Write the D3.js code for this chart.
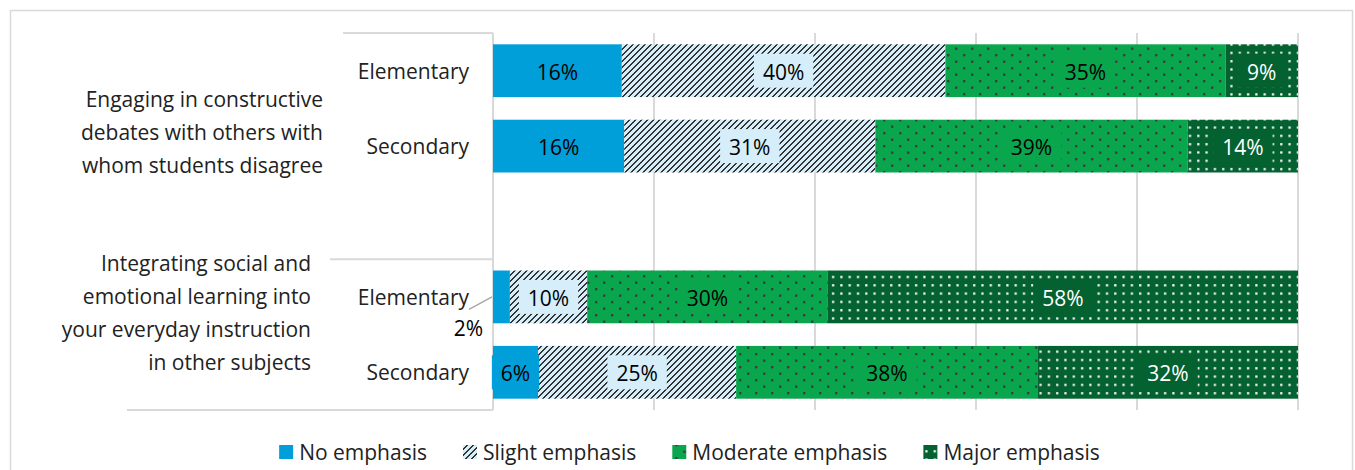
<!DOCTYPE html>
<html>
<head>
<meta charset="utf-8">
<script src="https://cdn.jsdelivr.net/npm/d3@7"></script>
<style>
  html, body { margin: 0; padding: 0; background: #fff; }
  svg { display: block; font-family: "Open Sans", sans-serif; }
</style>
</head>
<body>
<svg id="chart" width="1355" height="470"></svg>
<script>
// ---------------- data ----------------
const series = ["No emphasis", "Slight emphasis", "Moderate emphasis", "Major emphasis"];
const groups = [
  "Engaging in constructive debates with others with whom students disagree",
  "Integrating social and emotional learning into your everyday instruction in other subjects"
];
const groupLines = [
  ["Engaging in constructive", "debates with others with", "whom students disagree"],
  ["Integrating social and", "emotional learning into", "your everyday instruction", "in other subjects"]
];
const levels = ["Elementary", "Secondary"];
const rowKeys = ["g1-Elementary", "g1-Secondary", "gap", "g2-Elementary", "g2-Secondary"];
const noEmphasis       = [16.0, 16.3, 2.1, 5.6];
const slightEmphasis   = [40.2, 31.2, 9.6, 24.6];
const moderateEmphasis = [34.8, 38.8, 29.9, 37.5];
const majorEmphasis    = [9.0, 13.7, 58.4, 32.3];
const xTicks = [0, 20, 40, 60, 80, 100];

// ---------------- layout ----------------
const svg = d3.select("#chart");
const plot = { left: 493, right: 1298, top: 33, bottom: 410 };
const gridColor = "#d9d9d9";
const textColor = "#222222";
const FS = 21;

const x = d3.scaleLinear().domain([0, 100]).range([plot.left, plot.right]);
const y = d3.scaleBand().domain(rowKeys).range([plot.top, plot.bottom])
  .paddingInner(0.3).paddingOuter(0.15);

const fills = ["#009fda", "url(#pSlight)", "url(#pModerate)", "url(#pMajor)"];
const baseColors = ["#009fda", "#d6eefa", "#0aa64e", "#046130"];
const labelColors = ["#000000", "#000000", "#000000", "#ffffff"];

// patterns
const defs = svg.append("defs");
const T = 6;
const pS = defs.append("pattern").attr("id", "pSlight").attr("patternUnits", "userSpaceOnUse")
  .attr("width", T).attr("height", T);
pS.append("rect").attr("width", T).attr("height", T).attr("fill", "#d6eefa");
for (let px = 0; px < T; px++) {
  for (let py = 0; py < T; py++) {
    const m = (px + py) % T;
    if (m === 4 || m === 5) {
      pS.append("rect").attr("x", px).attr("y", py).attr("width", 1).attr("height", 1)
        .attr("fill", "#333333").attr("shape-rendering", "crispEdges");
    }
  }
}

const pM = defs.append("pattern").attr("id", "pModerate").attr("patternUnits", "userSpaceOnUse")
  .attr("width", 16).attr("height", 13);
pM.append("rect").attr("width", 16).attr("height", 13).attr("fill", "#0aa64e");
pM.append("rect").attr("x", 3).attr("y", 2).attr("width", 2.4).attr("height", 2.4).attr("fill", "#3f3a44");
pM.append("rect").attr("x", 11).attr("y", 8.5).attr("width", 2.4).attr("height", 2.4).attr("fill", "#3f3a44");

const pJ = defs.append("pattern").attr("id", "pMajor").attr("patternUnits", "userSpaceOnUse")
  .attr("width", 8.3).attr("height", 8.3);
pJ.append("rect").attr("width", 8.3).attr("height", 8.3).attr("fill", "#046130");
pJ.append("rect").attr("x", 2).attr("y", 2).attr("width", 2.2).attr("height", 2.2).attr("fill", "#ffffff");

// outer border
svg.append("rect").attr("x", 10.5).attr("y", 10.5).attr("width", 1342).attr("height", 470)
  .attr("fill", "none").attr("stroke", gridColor).attr("stroke-width", 1.5);

// gridlines
svg.append("g").selectAll("line").data(xTicks).join("line")
  .attr("x1", d => x(d)).attr("x2", d => x(d))
  .attr("y1", plot.top).attr("y2", plot.bottom)
  .attr("stroke", gridColor).attr("stroke-width", 2);

// category axis lines (multi-level)
const axisG = svg.append("g").attr("stroke", gridColor).attr("stroke-width", 2);
axisG.append("line").attr("x1", 343).attr("x2", x(0)).attr("y1", plot.top).attr("y2", plot.top);
const sepY = y("gap") + y.bandwidth() / 2 + y.step() / 2;
axisG.append("line").attr("x1", 330).attr("x2", x(0)).attr("y1", sepY).attr("y2", sepY);
axisG.append("line").attr("x1", 127).attr("x2", x(0)).attr("y1", plot.bottom).attr("y2", plot.bottom);

// rows
const rows = [
  { key: "g1-Elementary", vals: [noEmphasis[0], slightEmphasis[0], moderateEmphasis[0], majorEmphasis[0]] },
  { key: "g1-Secondary",  vals: [noEmphasis[1], slightEmphasis[1], moderateEmphasis[1], majorEmphasis[1]] },
  { key: "g2-Elementary", vals: [noEmphasis[2], slightEmphasis[2], moderateEmphasis[2], majorEmphasis[2]] },
  { key: "g2-Secondary",  vals: [noEmphasis[3], slightEmphasis[3], moderateEmphasis[3], majorEmphasis[3]] }
];
const segs = [];
rows.forEach(r => {
  let acc = 0;
  r.vals.forEach((v, i) => { segs.push({ key: r.key, s: i, x0: acc, x1: acc + v, v }); acc += v; });
});

svg.append("g").selectAll("rect").data(segs).join("rect")
  .attr("x", d => x(d.x0)).attr("width", d => x(d.x1) - x(d.x0))
  .attr("y", d => y(d.key)).attr("height", y.bandwidth())
  .attr("fill", d => fills[d.s]);

// data labels
const fmt = v => Math.round(v) + "%";
const lab = svg.append("g").attr("font-size", FS);
segs.forEach(d => {
  const cy = y(d.key) + y.bandwidth() / 2;
  if (d.v < 4) {
    const x0 = x(d.x0);
    svg.append("line").attr("x1", x0 - 24).attr("y1", cy + 12.5).attr("x2", x0 - 1).attr("y2", cy)
      .attr("stroke", "#a6a6a6").attr("stroke-width", 1.3);
    lab.append("text").attr("x", x0 - 10).attr("y", cy + 31.5).attr("text-anchor", "end")
      .attr("dominant-baseline", "central").attr("fill", "#000").text(fmt(d.v));
    return;
  }
  const cx = (x(d.x0) + x(d.x1)) / 2;
  const g = lab.append("g");
  const t = g.append("text").attr("x", cx).attr("y", cy + 1).attr("text-anchor", "middle")
    .attr("dominant-baseline", "central").attr("fill", labelColors[d.s]).text(fmt(d.v));
  const tw = t.node().getComputedTextLength();
  g.insert("rect", "text").attr("x", cx - tw / 2 - 9).attr("y", cy - 17)
    .attr("width", tw + 18).attr("height", 34).attr("fill", baseColors[d.s]);
});

// subcategory labels
svg.append("g").attr("font-size", FS).attr("fill", textColor)
  .selectAll("text").data(rows).join("text")
  .attr("x", 469).attr("y", d => y(d.key) + y.bandwidth() / 2)
  .attr("text-anchor", "end").attr("dominant-baseline", "central")
  .text(d => d.key.split("-")[1]);

// group labels
const groupAnchor = [
  { cy: y("g1-Secondary") + y.bandwidth() / 2 - 14, right: 323 },
  { cy: y("g2-Elementary") + y.bandwidth() / 2 + 15.5, right: 311 }
];
groupLines.forEach((lines, gi) => {
  const lh = 33;
  const start = groupAnchor[gi].cy - (lines.length - 1) * lh / 2;
  const t = svg.append("text").attr("font-size", FS).attr("fill", textColor).attr("text-anchor", "end");
  lines.forEach((ln, li) => {
    t.append("tspan").attr("x", groupAnchor[gi].right).attr("y", start + li * lh)
      .attr("dominant-baseline", "central").text(ln);
  });
});

// legend
const leg = svg.append("g").attr("font-size", FS).attr("fill", textColor);
const legY = 452;
const items = series.map((s, i) => {
  const g = leg.append("g");
  g.append("rect").attr("x", 0).attr("y", legY - 7).attr("width", 14).attr("height", 14).attr("fill", fills[i]);
  const t = g.append("text").attr("x", 20).attr("y", legY).attr("dominant-baseline", "central").text(s);
  return { g, w: 20 + t.node().getComputedTextLength() };
});
const gap = 36;
const total = d3.sum(items, d => d.w) + gap * (items.length - 1);
let lx = 689.5 - total / 2;
items.forEach(it => { it.g.attr("transform", `translate(${lx},0)`); lx += it.w + gap; });
</script>
</body>
</html>
